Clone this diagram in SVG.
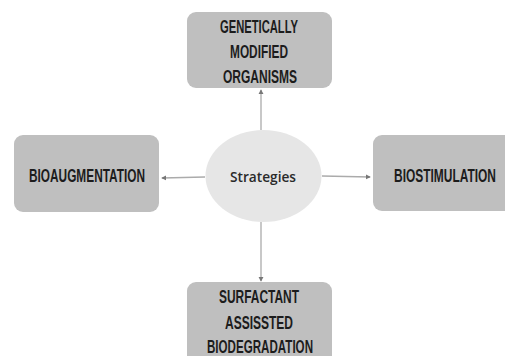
<svg xmlns="http://www.w3.org/2000/svg" width="505" height="356" viewBox="0 0 505 356">
<defs>
<style>
.box{fill:#bfbfbf;}
.lbl{font-family:"Liberation Sans",Arial,sans-serif;font-weight:bold;font-size:19px;fill:#1c1c1c;text-anchor:middle;}
.conn{stroke:#ababab;stroke-width:1.3;fill:none;marker-end:url(#ah);}
</style>
<marker id="ah" viewBox="0 0 6 6" refX="5" refY="3" markerWidth="4" markerHeight="4" orient="auto">
<path d="M0,0 L6,3 L0,6 Z" fill="#777"/>
</marker>
</defs>
<rect width="505" height="356" fill="#ffffff"/>
<g id="connectors">
<line class="conn" x1="261" y1="130" x2="261" y2="90"/>
<line class="conn" x1="205" y1="177" x2="162" y2="178"/>
<line class="conn" x1="322" y1="176" x2="370" y2="177"/>
<line class="conn" x1="261" y1="222" x2="261" y2="281"/>
</g>
<g id="center">
<ellipse cx="263.5" cy="176" rx="58" ry="46" fill="#e6e6e6"/>
<text x="263" y="182" font-family="'Open Sans','Liberation Sans',sans-serif" font-weight="600" font-size="14" fill="#2a2a2a" text-anchor="middle" textLength="66" lengthAdjust="spacingAndGlyphs">Strategies</text>
</g>
<g id="gmo">
<rect class="box" x="187" y="12" width="145" height="76" rx="9"/>
<text class="lbl" x="259" y="33" textLength="78" lengthAdjust="spacingAndGlyphs">GENETICALLY</text>
<text class="lbl" x="259" y="58" textLength="58" lengthAdjust="spacingAndGlyphs">MODIFIED</text>
<text class="lbl" x="260" y="83" textLength="74" lengthAdjust="spacingAndGlyphs">ORGANISMS</text>
</g>
<g id="bioaugmentation">
<rect class="box" x="14" y="135" width="145" height="77" rx="9"/>
<text class="lbl" x="87" y="182" textLength="116" lengthAdjust="spacingAndGlyphs">BIOAUGMENTATION</text>
</g>
<g id="biostimulation">
<rect class="box" x="373" y="135" width="145" height="76" rx="9"/>
<text class="lbl" x="445" y="182" textLength="102" lengthAdjust="spacingAndGlyphs">BIOSTIMULATION</text>
</g>
<g id="surfactant">
<rect class="box" x="187" y="282" width="145" height="85" rx="9"/>
<text class="lbl" x="259" y="303" textLength="80" lengthAdjust="spacingAndGlyphs">SURFACTANT</text>
<text class="lbl" x="259" y="329" textLength="68" lengthAdjust="spacingAndGlyphs">ASSISSTED</text>
<text class="lbl" x="260" y="353" textLength="106" lengthAdjust="spacingAndGlyphs">BIODEGRADATION</text>
</g>
</svg>
